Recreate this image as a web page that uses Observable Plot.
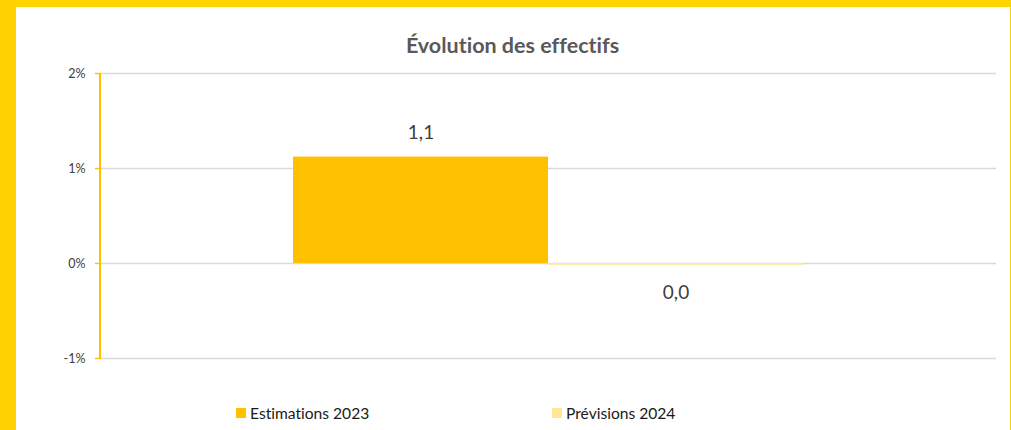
<!DOCTYPE html>
<html>
<head>
<meta charset="utf-8">
<script src="https://cdn.jsdelivr.net/npm/d3@7"></script>
<script src="https://cdn.jsdelivr.net/npm/@observablehq/plot@0.6"></script>
<style>
  html, body { margin: 0; padding: 0; }
  body { width: 1011px; height: 430px; overflow: hidden; background: #FFD200; font-family: Lato, "Open Sans", sans-serif; font-variant-ligatures: none; }
  #panel { position: absolute; left: 16px; top: 7px; width: 994px; height: 423px; background: #fff; }
  #title { position: absolute; left: 0; width: 993px; top: 25px; text-align: center; font-weight: bold; font-size: 21.5px; color: #595959; font-variant-ligatures: none; }
  #chart { position: absolute; left: 0; top: 0; }
  .leg { position: absolute; top: 397px; font-size: 15.6px; color: #1a1a1a; display: flex; align-items: center; white-space: nowrap; font-variant-ligatures: none; }
  .sw { width: 10px; height: 10px; margin-right: 4px; }
  svg text { font-variant-ligatures: none; }
</style>
</head>
<body>
<div id="panel">
  <div id="chart"></div>
  <div id="title">Évolution des effectifs</div>
  <div id="legend"></div>
</div>
<script>
// Data
const series = ["Estimations 2023", "Prévisions 2024"];
const values = [1.12, -0.018];
const labels = ["1,1", "0,0"];
const colors = ["#FFC000", "#FFE699"];
const yTicks = [-1, 0, 1, 2];

const data = series.map((s, i) => ({series: s, value: values[i], label: labels[i]}));

const W = 994, H = 380;
const chart = Plot.plot({
  width: W,
  height: H,
  marginLeft: 85,
  marginRight: 14,
  marginTop: 66,
  marginBottom: 29,
  style: {background: "transparent", fontFamily: "Lato, 'Open Sans', sans-serif", fontSize: "12.5px", color: "#404040"},
  x: {type: "band", domain: series, range: [276, 787], padding: 0, axis: null, label: null},
  y: {domain: [-1, 2], ticks: yTicks, label: null},
  color: {domain: series, range: colors},
  marks: [
    Plot.ruleY(yTicks, {stroke: "#D9D9D9", strokeWidth: 1.3}),
    Plot.barY(data, {x: "series", y: "value", fill: "series"}),
    Plot.text(data.filter(d => d.value > 0), {x: "series", y: "value", text: "label", dy: -24, fontSize: 19, fill: "#404040"}),
    Plot.text(data.filter(d => d.value <= 0), {x: "series", y: "value", text: "label", dy: 28, fontSize: 19, fill: "#404040"}),
    Plot.axisY({ticks: yTicks, label: null, tickFormat: d => d + "%", tickSize: 6, tickPadding: 10, stroke: "#FFC000", strokeWidth: 1.5, fill: "#404040", fontSize: 12.5}),
    (index, scales, values, dims) => {
      const x = dims.marginLeft - 1;
      return d3.create("svg:line")
        .attr("x1", x).attr("x2", x)
        .attr("y1", scales.y(2)).attr("y2", scales.y(-1))
        .attr("stroke", "#FFC000").attr("stroke-width", 2)
        .node();
    }
  ]
});
document.getElementById("chart").append(chart);

// Legend
const legend = document.getElementById("legend");
const legX = [220, 536];
series.forEach((s, i) => {
  const item = document.createElement("div");
  item.className = "leg";
  item.style.left = legX[i] + "px";
  const sw = document.createElement("div");
  sw.className = "sw";
  sw.style.background = colors[i];
  const t = document.createElement("span");
  t.textContent = s;
  item.append(sw, t);
  legend.append(item);
});
</script>
</body>
</html>
